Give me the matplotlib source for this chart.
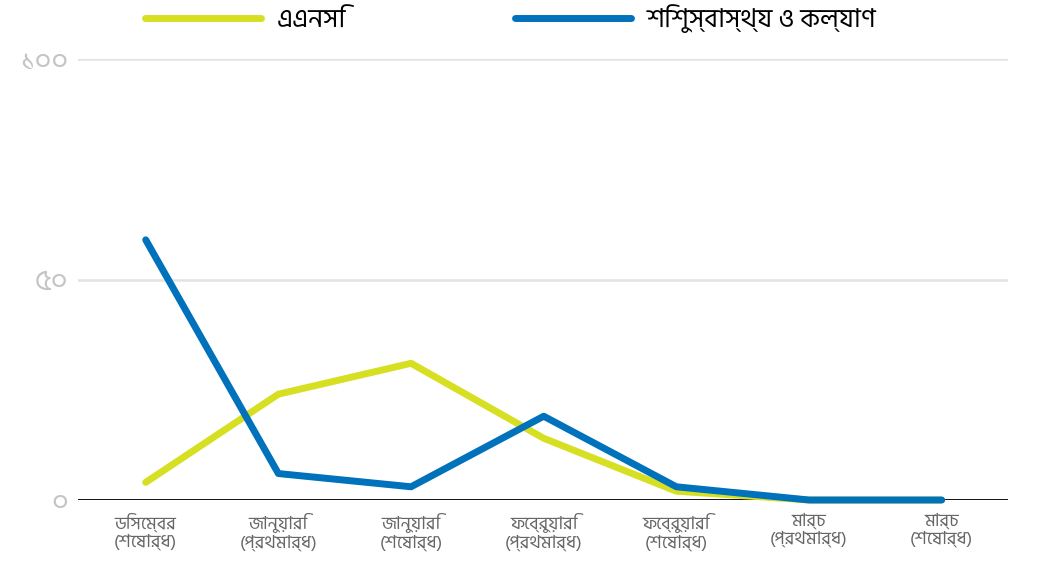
import matplotlib
matplotlib.use("Agg")
import matplotlib.pyplot as plt

plt.rcParams['font.family'] = ['Hind Siliguri', 'DejaVu Sans']

# data
periods = ['ডিসেম্বর\n(শেষার্ধ)', 'জানুয়ারি\n(প্রথমার্ধ)', 'জানুয়ারি\n(শেষার্ধ)',
           'ফেব্রুয়ারি\n(প্রথমার্ধ)', 'ফেব্রুয়ারি\n(শেষার্ধ)', 'মার্চ\n(প্রথমার্ধ)', 'মার্চ\n(শেষার্ধ)']
anc = [4, 24, 31, 14, 2, 0, 0]
child = [59, 6, 3, 19, 3, 0, 0]
series_names = ['এএনসি', 'শিশুস্বাস্থ্য ও কল্যাণ']
yticks = [0, 50, 100]
ytick_labels = ['০', '৫০', '১০০']

fig = plt.figure(figsize=(10.42, 5.62), dpi=100)
ax = fig.add_axes([0.0749, 0.1103, 0.8925, 0.7847])

x = list(range(len(periods)))
ax.plot(x, anc, color='#d7df23', lw=5, solid_capstyle='round', label=series_names[0], clip_on=False, zorder=3)
ax.plot(x, child, color='#0072bc', lw=5, solid_capstyle='round', label=series_names[1], clip_on=False, zorder=4)

ax.set_xlim(-0.51, 6.5)
ax.set_ylim(0, 100)
ax.set_yticks(yticks)
ax.set_yticklabels(ytick_labels, fontsize=21, color='#c4c4c4')
ax.set_xticks(x)
ax.set_xticklabels(periods, fontsize=13, color='#666666', linespacing=1.15)
ax.tick_params(length=0)
ax.tick_params(axis='y', pad=7)
ax.tick_params(axis='x', pad=9)
ax.grid(axis='y', color='#e3e3e3', lw=1.8)
ax.axhline(0, color='black', lw=2, zorder=2)
for s in ax.spines.values():
    s.set_visible(False)

fig.legend(loc='upper left', bbox_to_anchor=(0.116, 1.035), ncol=2, frameon=False,
           fontsize=19, handlelength=4.4, handletextpad=0.6, columnspacing=6.4)

fig.savefig('out.png', dpi=100)
